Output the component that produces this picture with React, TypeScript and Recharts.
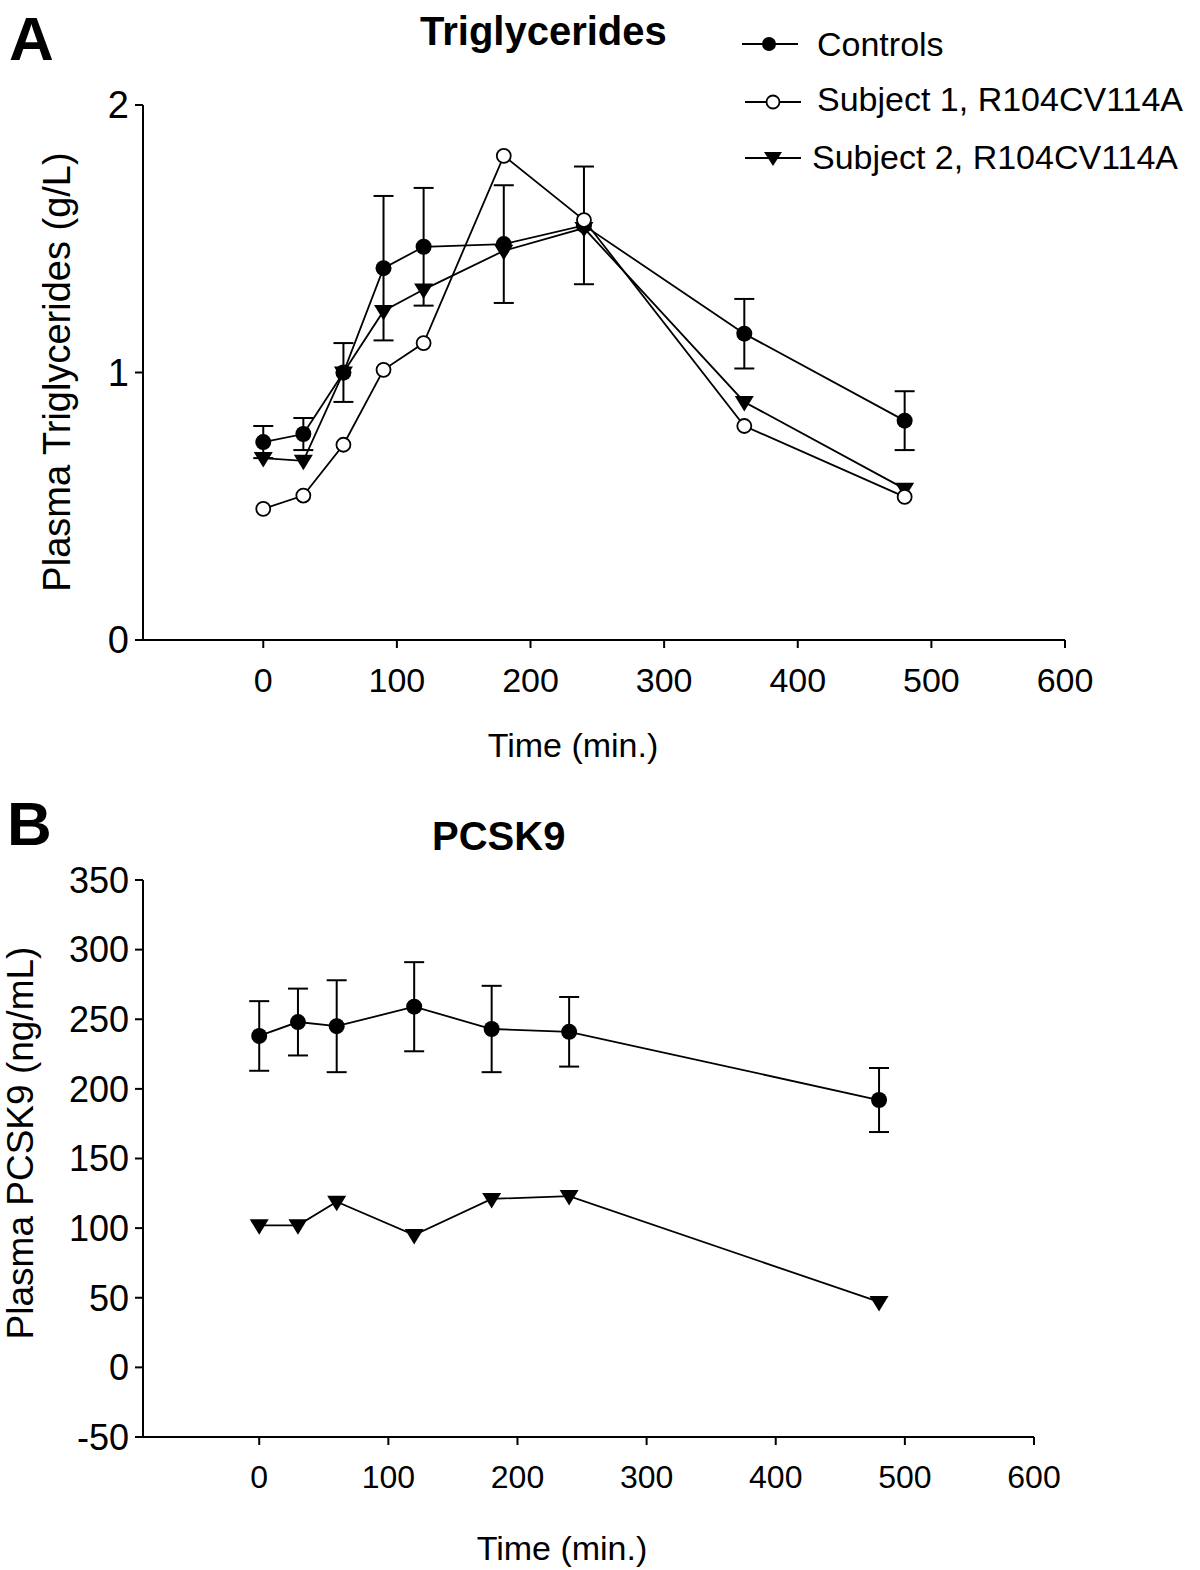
import { LineChart, Line, XAxis, YAxis, ErrorBar } from "recharts"

// Triglycerides panel (A)
const TG_TIMES = [0, 30, 60, 90, 120, 180, 240, 360, 480]
const TG_CONTROLS = [0.74, 0.77, 1.0, 1.39, 1.47, 1.48, 1.55, 1.145, 0.82]
const TG_CONTROLS_ERR = [0.06, 0.06, 0.11, 0.27, 0.22, 0.22, 0.22, 0.13, 0.11]
const TG_SUBJECT1 = [0.49, 0.54, 0.73, 1.01, 1.11, 1.81, 1.57, 0.8, 0.535]
const TG_SUBJECT2 = [0.68, 0.67, 1.0, 1.23, 1.31, 1.455, 1.54, 0.89, 0.565]
const TG_TICKS = [0, 1, 2]

// PCSK9 panel (B)
const PCSK9_TIMES = [0, 30, 60, 120, 180, 240, 480]
const PCSK9_CONTROLS = [238, 248, 245, 259, 243, 241, 192]
const PCSK9_CONTROLS_ERR = [25, 24, 33, 32, 31, 25, 23]
const PCSK9_SUBJECT2 = [102, 102, 119, 95, 121, 123, 47]
const PCSK9_TICKS = [-50, 0, 50, 100, 150, 200, 250, 300, 350]

const TIME_TICKS = [0, 100, 200, 300, 400, 500, 600]
const LEGEND_LABELS = ["Controls", "Subject 1, R104CV114A", "Subject 2, R104CV114A"]

const FONT = "'Liberation Sans', Arial, Helvetica, sans-serif"

const tgData = TG_TIMES.map((t, i) => ({
  time: t,
  controls: TG_CONTROLS[i],
  controlsErr: TG_CONTROLS_ERR[i],
  subject1: TG_SUBJECT1[i],
  subject2: TG_SUBJECT2[i],
}))

const pcskData = PCSK9_TIMES.map((t, i) => ({
  time: t,
  controls: PCSK9_CONTROLS[i],
  controlsErr: PCSK9_CONTROLS_ERR[i],
  subject2: PCSK9_SUBJECT2[i],
}))

// markers
function FilledDot(props: any) {
  const { cx, cy, index } = props
  if (cx == null || cy == null) return <g key={`f-${index}`} />
  return <circle key={`f-${index}`} cx={cx} cy={cy} r={8} fill="#000" />
}

function OpenDot(props: any) {
  const { cx, cy, index } = props
  if (cx == null || cy == null) return <g key={`o-${index}`} />
  return <circle key={`o-${index}`} cx={cx} cy={cy} r={7} fill="#fff" stroke="#000" strokeWidth={1.8} />
}

function Triangle(props: any) {
  const { cx, cy, index } = props
  if (cx == null || cy == null) return <g key={`t-${index}`} />
  return (
    <path
      key={`t-${index}`}
      d={`M${cx - 9.5},${cy - 6} L${cx + 9.5},${cy - 6} L${cx},${cy + 9.5} Z`}
      fill="#000"
    />
  )
}

const axisLine = { stroke: "#000", strokeWidth: 2 }
const tickLine = { stroke: "#000", strokeWidth: 2 }

export default function App() {
  return (
    <div style={{ position: "relative", width: 1200, height: 1570, background: "#fff", fontFamily: FONT }}>
      <style>{`body{margin:0;}`}</style>

      {/* Panel A */}
      <div style={{ position: "absolute", left: 0, top: 0 }}>
        <LineChart
          width={1200}
          height={720}
          data={tgData}
          margin={{ top: 105, right: 135, bottom: 20, left: 63 }}
        >
          <XAxis
            type="number"
            dataKey="time"
            domain={[-90, 600]}
            ticks={TIME_TICKS}
            allowDataOverflow
            height={60}
            axisLine={axisLine}
            tickLine={tickLine}
            tickSize={8}
            tickMargin={20}
            tick={{ fill: "#000", fontSize: 34, fontFamily: FONT }}
          />
          <YAxis
            type="number"
            domain={[0, 2]}
            ticks={TG_TICKS}
            width={80}
            axisLine={axisLine}
            tickLine={tickLine}
            tickSize={8}
            tickMargin={6}
            tick={{ fill: "#000", fontSize: 38, fontFamily: FONT }}
          />
          <Line
            dataKey="controls"
            stroke="#000"
            strokeWidth={1.8}
            dot={FilledDot}
            activeDot={false}
            isAnimationActive={false}
          >
            <ErrorBar dataKey="controlsErr" width={10} stroke="#000" strokeWidth={2} direction="y" />
          </Line>
          <Line
            dataKey="subject2"
            stroke="#000"
            strokeWidth={1.8}
            dot={Triangle}
            activeDot={false}
            isAnimationActive={false}
          />
          <Line
            dataKey="subject1"
            stroke="#000"
            strokeWidth={1.8}
            dot={OpenDot}
            activeDot={false}
            isAnimationActive={false}
          />
        </LineChart>
      </div>

      {/* Panel B */}
      <div style={{ position: "absolute", left: 0, top: 780 }}>
        <LineChart
          width={1200}
          height={720}
          data={pcskData}
          margin={{ top: 100, right: 166, bottom: 3, left: 63 }}
        >
          <XAxis
            type="number"
            dataKey="time"
            domain={[-90, 600]}
            ticks={TIME_TICKS}
            allowDataOverflow
            height={60}
            axisLine={axisLine}
            tickLine={tickLine}
            tickSize={8}
            tickMargin={20}
            tick={{ fill: "#000", fontSize: 32, fontFamily: FONT }}
          />
          <YAxis
            type="number"
            domain={[-50, 350]}
            ticks={PCSK9_TICKS}
            width={80}
            axisLine={axisLine}
            tickLine={tickLine}
            tickSize={8}
            tickMargin={6}
            tick={{ fill: "#000", fontSize: 36, fontFamily: FONT }}
          />
          <Line
            dataKey="controls"
            stroke="#000"
            strokeWidth={1.8}
            dot={FilledDot}
            activeDot={false}
            isAnimationActive={false}
          >
            <ErrorBar dataKey="controlsErr" width={10} stroke="#000" strokeWidth={2} direction="y" />
          </Line>
          <Line
            dataKey="subject2"
            stroke="#000"
            strokeWidth={1.8}
            dot={Triangle}
            activeDot={false}
            isAnimationActive={false}
          />
        </LineChart>
      </div>

      {/* Titles, axis labels, legend */}
      <svg
        width={1200}
        height={1570}
        style={{ position: "absolute", left: 0, top: 0, pointerEvents: "none" }}
        fontFamily={FONT}
      >
        <text x={9} y={60} fontSize={62} fontWeight="bold">A</text>
        <text x={420} y={45} fontSize={40} fontWeight="bold">Triglycerides</text>
        <text x={573} y={757} fontSize={34} textAnchor="middle">Time (min.)</text>
        <text transform="translate(70,372) rotate(-90)" fontSize={38} textAnchor="middle">
          Plasma Triglycerides (g/L)
        </text>

        <text x={7} y={845} fontSize={62} fontWeight="bold">B</text>
        <text x={432} y={850} fontSize={40} fontWeight="bold">PCSK9</text>
        <text x={562} y={1560} fontSize={34} textAnchor="middle">Time (min.)</text>
        <text transform="translate(33,1143) rotate(-90)" fontSize={37} textAnchor="middle">
          Plasma PCSK9 (ng/mL)
        </text>

        {/* legend */}
        <g>
          <line x1={742} y1={44} x2={798} y2={44} stroke="#000" strokeWidth={1.8} />
          <circle cx={769} cy={44} r={7} fill="#000" />
          <text x={817} y={56} fontSize={34}>{LEGEND_LABELS[0]}</text>

          <line x1={745} y1={102} x2={801} y2={102} stroke="#000" strokeWidth={1.8} />
          <circle cx={773} cy={102} r={6.5} fill="#fff" stroke="#000" strokeWidth={1.8} />
          <text x={817} y={111} fontSize={34}>{LEGEND_LABELS[1]}</text>

          <line x1={745} y1={158} x2={801} y2={158} stroke="#000" strokeWidth={1.8} />
          <path d="M764,152 L782,152 L773,166 Z" fill="#000" />
          <text x={812} y={169} fontSize={34}>{LEGEND_LABELS[2]}</text>
        </g>
      </svg>
    </div>
  )
}
